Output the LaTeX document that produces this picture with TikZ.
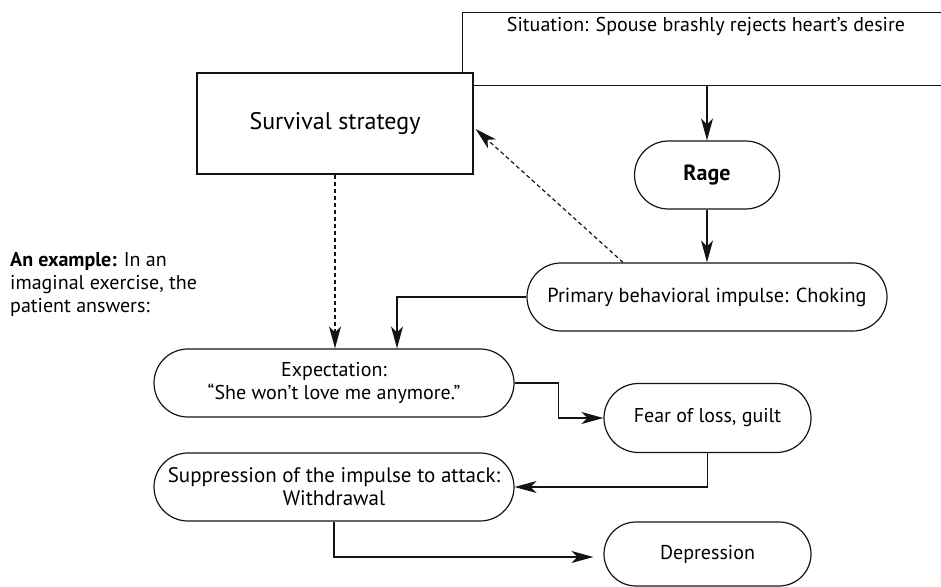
\documentclass[tikz,border=0pt]{standalone}
\usepackage{fontspec}
\setmainfont{PT Sans}
\usetikzlibrary{arrows.meta,shapes.misc}
\definecolor{flowink}{RGB}{20,20,20}
\tikzset{
  flowbox/.style={
    draw=flowink, line width=1.2pt, fill=white, align=center,
    inner sep=2pt, font=\fontsize{20}{23}\selectfont
  },
  sqbox/.style={flowbox, rectangle},
  pill/.style={flowbox, rounded rectangle},
  txt/.style={inner sep=0pt, align=center, font=\fontsize{20}{23}\selectfont},
  anno/.style={inner sep=0pt, align=left, anchor=north west, font=\fontsize{20}{23}\selectfont},
  arr/.style={-{Stealth[length=22pt,width=12pt,inset=6pt]}, draw=flowink, line width=1.2pt},
  darr/.style={arr, dash pattern=on 4pt off 3pt},
  every picture/.append style={line join=miter}
}
\begin{document}
\begin{tikzpicture}[x=1pt,y=-1pt]
  \useasboundingbox (0,0) rectangle (941,586);
  % situation box runs off the right edge
  \node[sqbox, minimum width=520pt, minimum height=73pt, anchor=north west] (sit) at (462,12) {};
  \node[txt] (sittxt) at (706,27) {Situation: Spouse brashly rejects heart’s desire};
  \node[sqbox, minimum width=276pt, minimum height=101pt, font=\fontsize{24}{28}\selectfont] (surv) at (335,123.5) {Survival strategy};
  \node[pill, minimum width=149pt, minimum height=68pt, font=\fontsize{22}{26}\selectfont\bfseries] (rage) at (707,175) {Rage};
  \node[pill, minimum width=364pt, minimum height=68pt, font=\fontsize{20.3}{23}\selectfont] (prim) at (707,297) {Primary behavioral impulse: Choking};
  \node[pill, minimum width=364pt, minimum height=68pt] (expc) at (334,383) {Expectation:\\“She won’t love me anymore.”};
  \node[pill, minimum width=211pt, minimum height=69pt] (fear) at (707.5,418) {Fear of loss, guilt};
  \node[pill, minimum width=364pt, minimum height=68pt, font=\fontsize{21}{23}\selectfont] (supp) at (334,487) {Suppression of the impulse to attack:\\Withdrawal};
  \node[pill, minimum width=211pt, minimum height=64pt] (depr) at (707.5,554) {Depression};
  \node[anno] (example) at (10,252) {\textbf{An example:} In an\\imaginal exercise, the\\patient answers:};
  % connectors
  \draw[arr] (sit.south -| rage.north) -- (rage.north);
  \draw[arr] (rage.south) -- (prim.north);
  \draw[darr] ([xshift=-84pt]prim.north) -- ([shift={(2pt,-5.5pt)}]surv.east);
  \draw[darr] (surv.south) -- (surv.south |- expc.north);
  \draw[arr] (prim.west) -| ([xshift=63pt]expc.north);
  \draw[arr] (expc.east) -- ++(44,0) |- (fear.west);
  \draw[arr] (fear.south) |- (supp.east);
  \draw[arr, shorten >=10pt] (supp.south) |- ([yshift=-3pt]depr.west);
\end{tikzpicture}
\end{document}
